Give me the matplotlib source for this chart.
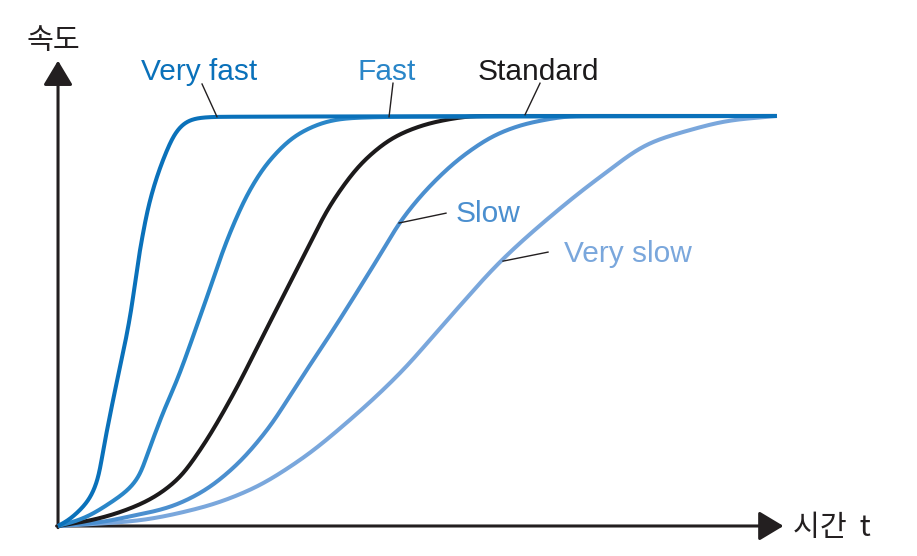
import numpy as np
import matplotlib
matplotlib.use("Agg")
import matplotlib.pyplot as plt

# ---- data (time t: 0..100, speed v: 0..100) ----
vf_t = [0, 1.25, 2.64, 4.03, 5.42, 6.54, 7.65, 10.01, 11.40, 12.80, 15.16, 16.55, 18.36, 22.11, 100]
vf_v = [0, 1.0, 3.2, 5.6, 10.7, 20.9, 30.7, 51.0, 67.3, 79.5, 91.7, 96.6, 99.3, 99.8, 100]

f_t = [0, 3.06, 7.23, 10.99, 12.80, 14.60, 16.55, 19.75, 23.92, 26.70, 29.49, 33.66, 38.25, 40.61, 47.57, 100]
f_v = [0, 1.5, 5.6, 11.2, 19.3, 27.6, 35.6, 51.0, 71.5, 82.0, 89.3, 95.9, 99.0, 99.5, 99.8, 100]

st_t = [0, 4.87, 11.82, 16.55, 19.75, 23.92, 29.07, 33.66, 38.25, 42.98, 47.57, 53.13, 58.28, 100]
st_v = [0, 1.5, 5.6, 11.2, 18.5, 30.7, 48.3, 64.1, 79.3, 89.8, 95.6, 98.8, 100, 100]

sl_t = [0, 5.84, 9.60, 15.16, 19.75, 24.34, 29.07, 33.66, 38.25, 45.20, 47.57, 52.16, 56.88, 61.47, 66.06, 72.18, 100]
sl_v = [0, 0.9, 2.2, 4.4, 8.0, 14.1, 23.4, 35.6, 47.8, 67.3, 74.1, 83.7, 91.0, 95.9, 98.5, 100, 100]

vs_t = [0, 10.43, 19.75, 26.70, 33.66, 40.61, 47.57, 54.52, 61.47, 68.43, 75.38, 82.34, 86.93, 93.88, 100]
vs_v = [0, 1.2, 4.4, 8.8, 16.1, 25.9, 37.3, 51.0, 64.4, 75.4, 85.1, 93.4, 96.1, 99.0, 100]

labels = ["Very fast", "Fast", "Standard", "Slow", "Very slow"]
colors = ["#0a71ba", "#2a86c8", "#1c1a1b", "#4b8fcf", "#7aa7dc"]


def pchip(x, y, xn):
    x = np.asarray(x, float); y = np.asarray(y, float)
    h = np.diff(x); d = np.diff(y) / h
    n = len(x)
    m = np.zeros(n)
    for k in range(1, n - 1):
        if d[k - 1] * d[k] > 0:
            w1 = 2 * h[k] + h[k - 1]; w2 = h[k] + 2 * h[k - 1]
            m[k] = (w1 + w2) / (w1 / d[k - 1] + w2 / d[k])
    m[0] = d[0]; m[-1] = 0 if d[-1] == 0 else d[-1]
    idx = np.clip(np.searchsorted(x, xn) - 1, 0, n - 2)
    hh = h[idx]; s = (xn - x[idx]) / hh
    h00 = 2 * s**3 - 3 * s**2 + 1; h10 = s**3 - 2 * s**2 + s
    h01 = -2 * s**3 + 3 * s**2; h11 = s**3 - s**2
    return h00 * y[idx] + h10 * hh * m[idx] + h01 * y[idx + 1] + h11 * hh * m[idx + 1]


def smooth_path(t, v, sx=7.19, sy=4.1, sigma=9.0):
    """Render helper: smooth the drawn path along its arc length (display-like units)."""
    tn = np.linspace(0, 100, 4000)
    vn = pchip(t, v, tn)
    X, Y = tn * sx, vn * sy
    seg = np.hypot(np.diff(X), np.diff(Y))
    s = np.concatenate([[0], np.cumsum(seg)])
    su = np.arange(0, s[-1], 0.5)
    Xu, Yu = np.interp(su, s, X), np.interp(su, s, Y)
    pad = int(4 * sigma / 0.5)
    Xp = np.concatenate([2 * Xu[0] - Xu[pad:0:-1], Xu, 2 * Xu[-1] - Xu[-2:-pad - 2:-1]])
    Yp = np.concatenate([2 * Yu[0] - Yu[pad:0:-1], Yu, 2 * Yu[-1] - Yu[-2:-pad - 2:-1]])
    k = np.arange(-pad, pad + 1) * 0.5
    g = np.exp(-0.5 * (k / sigma) ** 2); g /= g.sum()
    Xs = np.convolve(Xp, g, mode="same")[pad:-pad]
    Ys = np.convolve(Yp, g, mode="same")[pad:-pad]
    return Xs / sx, Ys / sy


fig = plt.figure(figsize=(9.17, 5.56), dpi=100)
ax = fig.add_axes([0, 0, 1, 1])
ax.set_xlim(-8.07, 119.47)
ax.set_ylim(-7.32, 128.29)
ax.axis("off")

FONT = ["Liberation Sans", "DejaVu Sans"]
KFONT = ["Noto Sans CJK KR", "DejaVu Sans"]

# axes with arrows
ax.annotate("", xy=(0, 113.5), xytext=(0, -0.4),
            arrowprops=dict(arrowstyle="-|>,head_length=0.75,head_width=0.45",
                            color="#231f20", lw=2.2, mutation_scale=20,
                            shrinkA=0, shrinkB=0))
ax.annotate("", xy=(100.9, 0), xytext=(-0.2, 0),
            arrowprops=dict(arrowstyle="-|>,head_length=0.75,head_width=0.45",
                            color="#231f20", lw=2.2, mutation_scale=20,
                            shrinkA=0, shrinkB=0))

series = [(vs_t, vs_v), (sl_t, sl_v), (st_t, st_v), (f_t, f_v), (vf_t, vf_v)]
cols = colors[::-1]
for (t, v), c in zip(series, cols):
    xs, ys = smooth_path(t, v)
    ax.plot(xs, ys, color=c, lw=2.9, solid_capstyle="butt", zorder=3)

# labels + leader lines
text_pos = [(19.68, 108.8), (45.69, 108.8), (66.83, 108.8), (59.87, 74.1), (79.2, 64.4)]
leaders = [((20.03, 107.8), (22.11, 99.8)), ((46.59, 108.0), (46.04, 99.8)),
           ((67.04, 108.0), (64.95, 100.3)), ((53.96, 76.3), (47.43, 73.9)),
           ((68.15, 66.8), (61.89, 64.6))]
for lab, c, (tx, ty), (p0, p1) in zip(labels, colors, text_pos, leaders):
    ax.text(tx, ty, lab, color=c, fontsize=21.5, family=FONT, ha="center", va="baseline")
    ax.plot([p0[0], p1[0]], [p0[1], p1[1]], color="#231f20", lw=1.0, zorder=4)

ax.text(-0.7, 118.3, "속도", family=KFONT, fontsize=21, color="#231f20", ha="center", va="center")
ax.text(102.2, -0.5, "시간  t", family=KFONT, fontsize=21, color="#231f20", ha="left", va="center")

fig.savefig("out.png", dpi=100)
